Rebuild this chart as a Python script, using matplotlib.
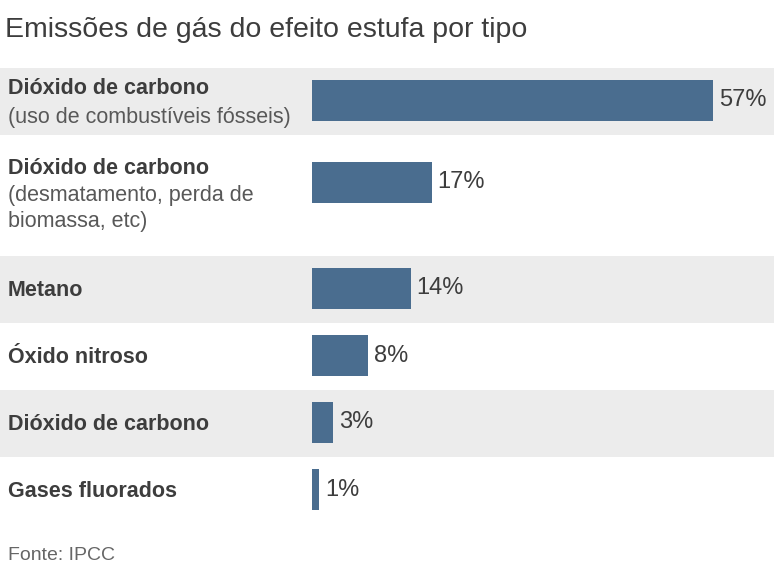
import matplotlib.pyplot as plt
from matplotlib.transforms import blended_transform_factory

plt.rcParams['font.family'] = ['Liberation Sans', 'DejaVu Sans']

# data
titles = ['Dióxido de carbono', 'Dióxido de carbono', 'Metano',
          'Óxido nitroso', 'Dióxido de carbono', 'Gases fluorados']
notes = [['(uso de combustíveis fósseis)'],
         ['(desmatamento, perda de', 'biomassa, etc)'],
         [], [], [], []]
values = [57, 17, 14, 8, 3, 1]

# layout (pixels)
W, H = 774, 584
row_h = [67, 121, 67, 67, 67, 67]
first_row = 68
bar_x0 = 312
px_per_pct = 7.04
bar_h = 41
bar_col = '#4a6d8f'
band_col = '#ececec'
text_col = '#3d3d3d'

fig = plt.figure(figsize=(W / 100, H / 100), dpi=100)
ax = fig.add_axes([0, 0, 1, 1])
ax.set_xlim(-bar_x0 / px_per_pct, (W - bar_x0) / px_per_pct)
ax.set_ylim(H, 0)
ax.axis('off')

tr = blended_transform_factory(fig.transFigure, ax.transData)

top = first_row
for i, (t, n, v) in enumerate(zip(titles, notes, values)):
    h = row_h[i]
    if i % 2 == 0:
        ax.axhspan(top, top + h, color=band_col, lw=0, zorder=0)
    pad = 27 if len(n) > 1 else 12
    bar_top = top + pad
    yc = bar_top + bar_h / 2
    ax.barh(yc, v, height=bar_h, left=0, color=bar_col, zorder=2)
    ax.text(v + 6 / px_per_pct, yc, f'{v}%', ha='left', va='center',
            fontsize=17, color=text_col)
    if n:
        # one-line notes sit a little lower in the row
        shift = 3 if len(n) == 1 else 0
        ax.text(8 / W, bar_top + 6 + shift, t, transform=tr, ha='left', va='center',
                fontsize=15.5, fontweight='bold', color=text_col)
        for k, line in enumerate(n):
            ax.text(8 / W, bar_top + 34 + shift + 25 * k, line, transform=tr,
                    ha='left', va='center', fontsize=15.5, color='#585858')
    else:
        ax.text(8 / W, yc + 2, t, transform=tr, ha='left', va='center',
                fontsize=15.5, fontweight='bold', color=text_col)
    top += h

fig.text(5 / W, 1 - 30 / H, 'Emissões de gás do efeito estufa por tipo',
         ha='left', va='center', fontsize=20.5, color=text_col)
fig.text(8 / W, 1 - 555 / H, 'Fonte: IPCC', ha='left', va='center',
         fontsize=14, color='#666666')

fig.savefig('out.png', dpi=100, facecolor='white')
